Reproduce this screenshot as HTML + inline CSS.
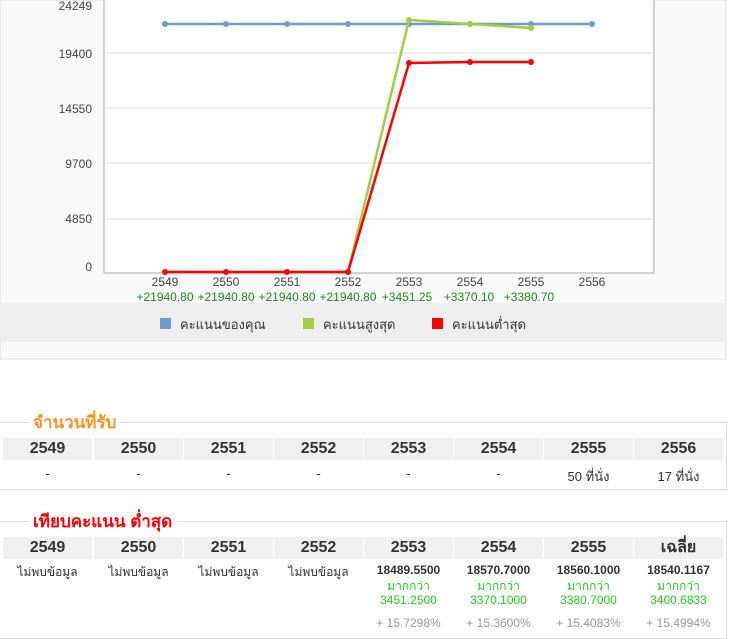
<!DOCTYPE html>
<html><head><meta charset="utf-8"><style>
body{margin:0;width:737px;height:637px;background:#fff;position:relative;overflow:hidden;font-family:"Liberation Sans","Noto Sans CJK SC",sans-serif;}
.a{position:absolute}
.box{position:absolute;left:0;width:726px;border:1px solid #ddd;border-left:none;}
.hd{position:absolute;height:22px;width:89px;background:#f0f0f0;text-align:center;font:bold 16px "Liberation Sans",sans-serif;line-height:22px;color:#333}
.c{position:absolute;width:89px;text-align:center;font-size:12px;color:#333}
.t{position:absolute;background:#fff;padding:0 3px;font-weight:bold;font-size:17px}
</style></head><body>
<svg class="a" style="left:0;top:0" width="737" height="360">
<rect x="0" y="0" width="726" height="359" fill="#f9f9f9" stroke="#ddd"/>
<rect x="104" y="-5" width="550" height="278" fill="#fff" stroke="#aaa"/>
<g stroke="#ddd"><line x1="104" x2="653" y1="53" y2="53"/><line x1="104" x2="653" y1="108" y2="108"/><line x1="104" x2="653" y1="163" y2="163"/><line x1="104" x2="653" y1="219" y2="219"/></g>
<g font-size="12" fill="#444" text-anchor="end" font-family="Liberation Sans,sans-serif">
<text x="92" y="10">24249</text><text x="92" y="58">19400</text><text x="92" y="113">14550</text><text x="92" y="168">9700</text><text x="92" y="223">4850</text><text x="92" y="271">0</text></g>
<g font-size="12" fill="#444" text-anchor="middle" font-family="Liberation Sans,sans-serif">
<text x="165" y="286">2549</text><text x="226" y="286">2550</text><text x="287" y="286">2551</text><text x="348" y="286">2552</text><text x="409" y="286">2553</text><text x="470" y="286">2554</text><text x="531" y="286">2555</text><text x="592" y="286">2556</text></g>
<g font-size="12" fill="#1a8a1a" text-anchor="middle" font-family="Liberation Sans,sans-serif">
<text x="165" y="301">+21940.80</text><text x="226" y="301">+21940.80</text><text x="287" y="301">+21940.80</text><text x="348" y="301">+21940.80</text><text x="407" y="301">+3451.25</text><text x="469" y="301">+3370.10</text><text x="529" y="301">+3380.70</text></g>
<polyline points="165,24 226,24 287,24 348,24 409,24 470,24 531,24 592,24" fill="none" stroke="#6b9bd1" stroke-width="2.5"/>
<g fill="#6b9bd1"><circle cx="165" cy="24" r="3"/><circle cx="226" cy="24" r="3"/><circle cx="287" cy="24" r="3"/><circle cx="348" cy="24" r="3"/><circle cx="409" cy="24" r="3"/><circle cx="470" cy="24" r="3"/><circle cx="531" cy="24" r="3"/><circle cx="592" cy="24" r="3"/></g>
<polyline points="165,272 226,272 287,272 348,272 409,20 470,24 531,28" fill="none" stroke="#a5cc45" stroke-width="2.5"/>
<g fill="#a5cc45"><circle cx="409" cy="20" r="3"/><circle cx="470" cy="24" r="3"/><circle cx="531" cy="28" r="3"/></g>
<polyline points="165,272 226,272 287,272 348,272 409,63 470,62 531,62" fill="none" stroke="#f00" stroke-width="2.5"/>
<g fill="#f00"><circle cx="165" cy="272" r="3"/><circle cx="226" cy="272" r="3"/><circle cx="287" cy="272" r="3"/><circle cx="348" cy="272" r="3"/><circle cx="409" cy="63" r="3"/><circle cx="470" cy="62" r="3"/><circle cx="531" cy="62" r="3"/></g>
<rect x="0" y="303" width="726" height="39" fill="#eee"/>
<rect x="160" y="318" width="11" height="11" fill="#6b9bd1"/><text x="180" y="329" font-size="13" fill="#333">คะแนนของคุณ</text>
<rect x="303" y="318" width="11" height="11" fill="#a5cc45"/><text x="323" y="329" font-size="13" fill="#333">คะแนนสูงสุด</text>
<rect x="432" y="318" width="11" height="11" fill="#f00"/><text x="452" y="329" font-size="13" fill="#333">คะแนนต่ำสุด</text>
</svg>

<div class="box" style="top:422px;height:66px"></div>
<div class="t" style="left:30px;top:409px;color:#f7941d">จำนวนที่รับ</div>
<div class="hd" style="left:3px;top:438px">2549</div><div class="hd" style="left:94px;top:438px">2550</div><div class="hd" style="left:184px;top:438px">2551</div><div class="hd" style="left:274px;top:438px">2552</div><div class="hd" style="left:364px;top:438px">2553</div><div class="hd" style="left:454px;top:438px">2554</div><div class="hd" style="left:544px;top:438px">2555</div><div class="hd" style="left:634px;top:438px">2556</div>
<div class="c" style="left:3px;top:466px;font-size:13px">-</div><div class="c" style="left:94px;top:466px;font-size:13px">-</div><div class="c" style="left:184px;top:466px;font-size:13px">-</div><div class="c" style="left:274px;top:466px;font-size:13px">-</div><div class="c" style="left:364px;top:466px;font-size:13px">-</div><div class="c" style="left:454px;top:466px;font-size:13px">-</div><div class="c" style="left:544px;top:466px;font-size:13px">50 ที่นั่ง</div><div class="c" style="left:634px;top:466px;font-size:13px">17 ที่นั่ง</div>

<div class="box" style="top:521px;height:116px"></div>
<div class="t" style="left:30px;top:508px;color:#f00">เทียบคะแนน ต่ำสุด</div>
<div class="hd" style="left:3px;top:537px">2549</div><div class="hd" style="left:94px;top:537px">2550</div><div class="hd" style="left:184px;top:537px">2551</div><div class="hd" style="left:274px;top:537px">2552</div><div class="hd" style="left:364px;top:537px">2553</div><div class="hd" style="left:454px;top:537px">2554</div><div class="hd" style="left:544px;top:537px">2555</div><div class="hd" style="left:634px;top:537px">เฉลี่ย</div>
<div class="c" style="left:3px;top:563px">ไม่พบข้อมูล</div><div class="c" style="left:94px;top:563px">ไม่พบข้อมูล</div><div class="c" style="left:184px;top:563px">ไม่พบข้อมูล</div><div class="c" style="left:274px;top:563px">ไม่พบข้อมูล</div>
<div class="c" style="left:364px;top:563px"><b>18489.5500</b><div style="color:#2c2;line-height:14px;margin-top:2px">มากกว่า<br>3451.2500</div><div style="color:#999;margin-top:9px">+ 15.7298%</div></div>
<div class="c" style="left:454px;top:563px"><b>18570.7000</b><div style="color:#2c2;line-height:14px;margin-top:2px">มากกว่า<br>3370.1000</div><div style="color:#999;margin-top:9px">+ 15.3600%</div></div>
<div class="c" style="left:544px;top:563px"><b>18560.1000</b><div style="color:#2c2;line-height:14px;margin-top:2px">มากกว่า<br>3380.7000</div><div style="color:#999;margin-top:9px">+ 15.4083%</div></div>
<div class="c" style="left:634px;top:563px"><b>18540.1167</b><div style="color:#2c2;line-height:14px;margin-top:2px">มากกว่า<br>3400.6833</div><div style="color:#999;margin-top:9px">+ 15.4994%</div></div>
</body></html>
